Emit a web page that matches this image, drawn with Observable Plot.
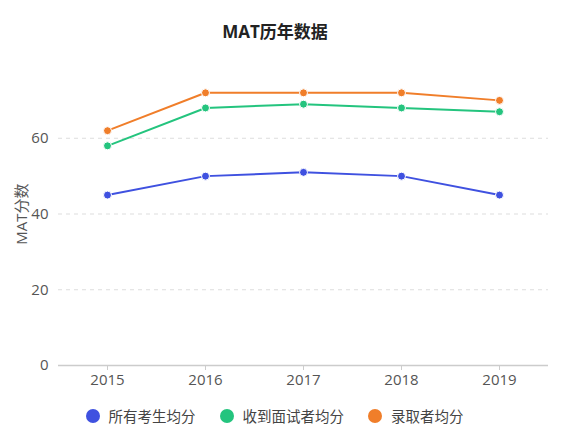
<!DOCTYPE html>
<html><head><meta charset="utf-8">
<script src="https://cdn.jsdelivr.net/npm/d3@7"></script>
<script src="https://cdn.jsdelivr.net/npm/@observablehq/plot@0.6"></script>
<style>
body{margin:0;background:#fff;font-family:"Open Sans","Noto Sans CJK SC",sans-serif;}
#title{height:50px;box-sizing:border-box;padding-top:22px;text-align:center;font-size:17px;line-height:20px;font-weight:bold;color:#222;margin-left:-25px;}
#legend{display:flex;justify-content:center;gap:24px;font-size:14.5px;color:#444;margin-top:10px;margin-left:-26px}
#legend span{display:flex;align-items:center;}
#legend i{display:inline-block;width:14px;height:14px;border-radius:50%;margin-right:9px;}
</style></head>
<body>
<div id="title">MAT历年数据</div>
<div id="chart"></div>
<div id="legend"></div>
<script>
const years = ["2015","2016","2017","2018","2019"];
const seriesNames = ["所有考生均分","收到面试者均分","录取者均分"];
const allAvg = [45, 50, 51, 50, 45];
const interviewAvg = [58, 68, 69, 68, 67];
const admittedAvg = [62, 72, 72, 72, 70];
const colors = ["#3f51e0", "#24c47e", "#f07e2a"];
const yTicks = [0, 20, 40, 60];

const seriesValues = [allAvg, interviewAvg, admittedAvg];
const data = seriesNames.flatMap((s, i) => years.map((y, j) => ({year: y, value: seriesValues[i][j], series: s})));

const plot = Plot.plot({
  width: 575, height: 345,
  marginLeft: 58, marginRight: 27, marginTop: 12, marginBottom: 30,
  style: {fontFamily: "'Open Sans','Noto Sans CJK SC',sans-serif", fontSize: "15px", color: "#555"},
  x: {type: "point", domain: years, padding: 0.5, label: null},
  y: {domain: [0, 80], label: null},
  color: {domain: seriesNames, range: colors},
  marks: [
    Plot.gridY(yTicks, {stroke: "#ddd", strokeOpacity: 1, strokeDasharray: "4,4"}),
    Plot.ruleY([0], {stroke: "#ccc", strokeWidth: 1.5}),
    Plot.axisY(yTicks, {tickSize: 0, tickPadding: 10, fontSize: 15, fill: "#555", label: null}),
    Plot.axisX({tickSize: 5, stroke: "#ccc", tickPadding: 4, fontSize: 15, fill: "#555", label: null}),
    Plot.text(["MAT分数"], {frameAnchor: "left", dx: -36, rotate: -90, textAnchor: "middle", fontSize: 15, fill: "#555"}),
    Plot.line(data, {x: "year", y: "value", z: "series", stroke: "series", strokeWidth: 2}),
    Plot.dot(data, {x: "year", y: "value", fill: "series", r: 4, stroke: "white", strokeWidth: 1})
  ]
});
document.getElementById("chart").appendChild(plot);
const lg = document.getElementById("legend");
seriesNames.forEach((s, i) => {
  const sp = document.createElement("span");
  sp.innerHTML = `<i style="background:${colors[i]}"></i>${s}`;
  lg.appendChild(sp);
});
</script>
</body></html>
